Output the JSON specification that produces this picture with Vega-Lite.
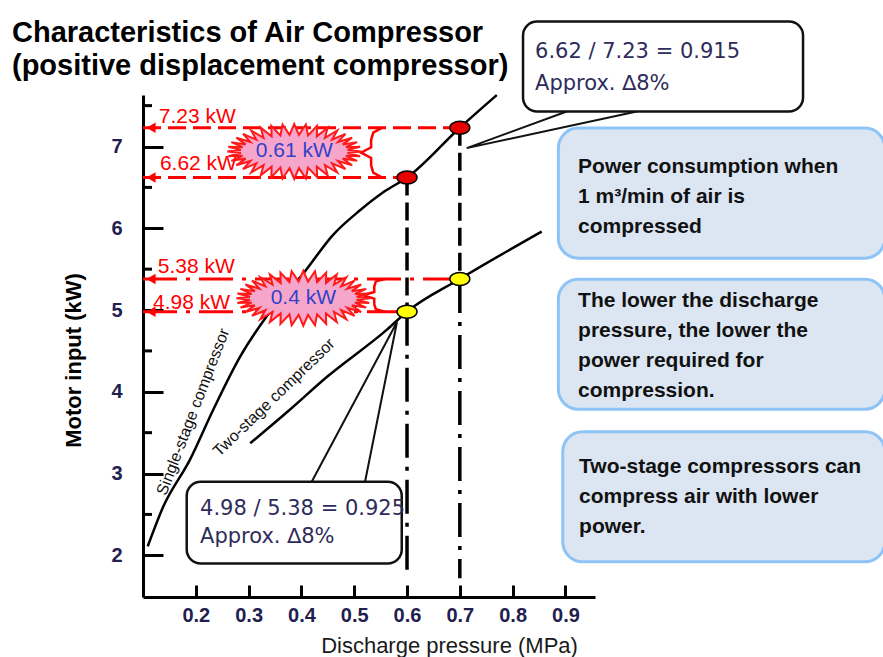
{
  "$schema": "https://vega.github.io/schema/vega-lite/v6.json",
  "width": 452,
  "height": 502,
  "autosize": "none",
  "padding": {"left": 143, "top": 95, "right": 288, "bottom": 60},
  "background": "white",
  "title": {
    "text": ["Characteristics of Air Compressor", "(positive displacement compressor)"],
    "anchor": "start",
    "frame": "group",
    "dx": -131,
    "dy": 111,
    "offset": 21,
    "baseline": "bottom",
    "font": "Liberation Sans",
    "fontSize": 29,
    "fontWeight": "bold",
    "color": "#000000",
    "lineHeight": 33
  },
  "config": {"view": {"stroke": null}},
  "datasets": {
    "curves": [
      {"series": "Single-stage", "p": 0.109, "kw": 2.11},
      {"series": "Single-stage", "p": 0.138, "kw": 2.59},
      {"series": "Single-stage", "p": 0.189, "kw": 3.17},
      {"series": "Single-stage", "p": 0.233, "kw": 3.78},
      {"series": "Single-stage", "p": 0.284, "kw": 4.43},
      {"series": "Single-stage", "p": 0.334, "kw": 4.92},
      {"series": "Single-stage", "p": 0.404, "kw": 5.45},
      {"series": "Single-stage", "p": 0.46, "kw": 5.92},
      {"series": "Single-stage", "p": 0.511, "kw": 6.22},
      {"series": "Single-stage", "p": 0.555, "kw": 6.44},
      {"series": "Single-stage", "p": 0.6, "kw": 6.62},
      {"series": "Single-stage", "p": 0.7, "kw": 7.23},
      {"series": "Single-stage", "p": 0.77, "kw": 7.63},
      {"series": "Two-stage", "p": 0.303, "kw": 3.37},
      {"series": "Two-stage", "p": 0.378, "kw": 3.78},
      {"series": "Two-stage", "p": 0.448, "kw": 4.18},
      {"series": "Two-stage", "p": 0.562, "kw": 4.76},
      {"series": "Two-stage", "p": 0.6, "kw": 4.98},
      {"series": "Two-stage", "p": 0.7, "kw": 5.38},
      {"series": "Two-stage", "p": 0.855, "kw": 5.96}
    ],
    "points": [
      {"series": "Single-stage", "p": 0.6, "kw": 6.62},
      {"series": "Single-stage", "p": 0.7, "kw": 7.23},
      {"series": "Two-stage", "p": 0.6, "kw": 4.98},
      {"series": "Two-stage", "p": 0.7, "kw": 5.38}
    ],
    "hlines": [
      {"kw": 7.23, "p0": 0.1, "p1": 0.7, "style": "dash", "label": "7.23 kW", "lp": 0.13, "lk": 7.29},
      {"kw": 6.62, "p0": 0.1, "p1": 0.6, "style": "dash", "label": "6.62 kW", "lp": 0.132, "lk": 6.71},
      {"kw": 5.38, "p0": 0.1, "p1": 0.7, "style": "dashdot", "label": "5.38 kW", "lp": 0.128, "lk": 5.458},
      {"kw": 4.98, "p0": 0.1, "p1": 0.6, "style": "dashdot", "label": "4.98 kW", "lp": 0.119, "lk": 5.013}
    ],
    "vlines": [
      {"p": 0.6, "k0": 6.62, "k1": 4.98, "style": "dash"},
      {"p": 0.7, "k0": 7.23, "k1": 5.38, "style": "dash"},
      {"p": 0.6, "k0": 4.98, "k1": 1.72, "style": "dashdot"},
      {"p": 0.7, "k0": 5.38, "k1": 1.72, "style": "dashdot"}
    ],
    "braces": [
      {"id": "b1", "ord": 1, "p": 0.553, "kw": 7.23},
      {"id": "b1", "ord": 2, "p": 0.536, "kw": 7.17},
      {"id": "b1", "ord": 3, "p": 0.532, "kw": 7.08},
      {"id": "b1", "ord": 4, "p": 0.532, "kw": 6.99},
      {"id": "b1", "ord": 5, "p": 0.513, "kw": 6.925},
      {"id": "b1", "ord": 6, "p": 0.532, "kw": 6.86},
      {"id": "b1", "ord": 7, "p": 0.532, "kw": 6.77},
      {"id": "b1", "ord": 8, "p": 0.536, "kw": 6.68},
      {"id": "b1", "ord": 9, "p": 0.553, "kw": 6.62},
      {"id": "b2", "ord": 1, "p": 0.558, "kw": 5.38},
      {"id": "b2", "ord": 2, "p": 0.541, "kw": 5.35},
      {"id": "b2", "ord": 3, "p": 0.538, "kw": 5.29},
      {"id": "b2", "ord": 4, "p": 0.538, "kw": 5.22},
      {"id": "b2", "ord": 5, "p": 0.516, "kw": 5.18},
      {"id": "b2", "ord": 6, "p": 0.538, "kw": 5.14},
      {"id": "b2", "ord": 7, "p": 0.538, "kw": 5.07},
      {"id": "b2", "ord": 8, "p": 0.541, "kw": 5.01},
      {"id": "b2", "ord": 9, "p": 0.558, "kw": 4.98}
    ],
    "bursts": [
      {"label": "0.61 kW", "p": 0.3864, "kw": 6.939},
      {"label": "0.4 kW", "p": 0.4036, "kw": 5.144}
    ],
    "curvelabels": [
      {"label": "Single-stage  compressor", "p": 0.195, "kw": 3.756, "ang": 291},
      {"label": "Two-stage compressor", "p": 0.348, "kw": 3.93, "ang": 316}
    ],
    "tails": [
      {"id": "A", "ord": 1, "p": 0.9024, "kw": 7.428},
      {"id": "A", "ord": 2, "p": 0.713, "kw": 6.98},
      {"id": "A", "ord": 3, "p": 1.035, "kw": 7.428},
      {"id": "B", "ord": 1, "p": 0.4195, "kw": 2.9},
      {"id": "B", "ord": 2, "p": 0.581, "kw": 4.853},
      {"id": "B", "ord": 3, "p": 0.5205, "kw": 2.9}
    ],
    "callouts": [
      {"id": "A", "p0": 0.8197, "p1": 1.35, "k0": 8.53, "k1": 7.428},
      {"id": "B", "p0": 0.1828, "p1": 0.59, "k0": 2.9, "k1": 1.901}
    ],
    "callouttext": [
      {"text": "6.62 / 7.23 = 0.915", "p": 0.8424, "kw": 8.086},
      {"text": "Approx. ∆8%", "p": 0.8424, "kw": 7.694},
      {"text": "4.98 / 5.38 = 0.925", "p": 0.208, "kw": 2.492},
      {"text": "Approx. ∆8%", "p": 0.208, "kw": 2.146}
    ],
    "notes": [
      {"id": 1, "p0": 0.8866, "p1": 1.505, "k0": 7.225, "k1": 5.634},
      {"id": 2, "p0": 0.8866, "p1": 1.505, "k0": 5.377, "k1": 3.786},
      {"id": 3, "p0": 0.8949, "p1": 1.505, "k0": 3.512, "k1": 1.92}
    ],
    "notetext": [
      {"text": "Power consumption when", "p": 0.9239, "kw": 6.678},
      {"text": "1 m³/min of air is", "p": 0.9239, "kw": 6.307},
      {"text": "compressed", "p": 0.9239, "kw": 5.94},
      {"text": "The lower the discharge", "p": 0.9239, "kw": 5.042},
      {"text": "pressure, the lower the", "p": 0.9239, "kw": 4.674},
      {"text": "power required for", "p": 0.9239, "kw": 4.307},
      {"text": "compression.", "p": 0.9239, "kw": 3.94},
      {"text": "Two-stage compressors can", "p": 0.9258, "kw": 3.002},
      {"text": "compress air with lower", "p": 0.9258, "kw": 2.635},
      {"text": "power.", "p": 0.9258, "kw": 2.268}
    ],
    "minor": [
      {"kw": 2.5}, {"kw": 3.5}, {"kw": 4.5}, {"kw": 5.5}, {"kw": 6.5}, {"kw": 7.5}
    ]
  },
  "encoding": {
    "x": {
      "type": "quantitative",
      "scale": {"domain": [0.1, 0.956], "nice": false, "zero": false}
    },
    "y": {
      "type": "quantitative",
      "scale": {"domain": [1.49, 7.63], "nice": false, "zero": false}
    }
  },
  "layer": [
    {
      "data": {"name": "hlines"},
      "mark": {"type": "rule", "color": "#ff0000", "strokeWidth": 3},
      "encoding": {
        "x": {"field": "p0", "type": "quantitative",
          "axis": {
            "title": "Discharge pressure (MPa)",
            "values": [0.2, 0.3, 0.4, 0.5, 0.6, 0.7, 0.8, 0.9],
            "format": ".1f",
            "grid": false,
            "domainColor": "#000000",
            "domainWidth": 3,
            "tickColor": "#000000",
            "tickWidth": 3,
            "tickSize": -12,
            "labelPadding": 20,
            "labelFont": "Liberation Sans",
            "labelFontSize": 20,
            "labelFontWeight": "bold",
            "labelColor": "#1f2050",
            "labelFlush": false,
            "titleFont": "Liberation Sans",
            "titleFontSize": 22,
            "titleFontWeight": "normal",
            "titleColor": "#1a1a1a",
            "titleX": 306,
            "titleY": 55,
            "titleAlign": "center",
            "titleBaseline": "alphabetic"
          }
        },
        "x2": {"field": "p1"},
        "y": {"field": "kw", "type": "quantitative",
          "axis": {
            "title": "Motor input (kW)",
            "values": [2, 3, 4, 5, 6, 7],
            "format": "d",
            "grid": false,
            "domainColor": "#000000",
            "domainWidth": 3,
            "tickColor": "#000000",
            "tickWidth": 3,
            "tickSize": -20,
            "labelPadding": 41,
            "labelFont": "Liberation Sans",
            "labelFontSize": 20,
            "labelFontWeight": "bold",
            "labelColor": "#1f2050",
            "labelFlush": false,
            "titleFont": "Liberation Sans",
            "titleFontSize": 22,
            "titleFontWeight": "bold",
            "titleColor": "#000000",
            "titleX": -70,
            "titleY": 265,
            "titleAngle": 270,
            "titleAlign": "center",
            "titleBaseline": "middle"
          }
        },
        "strokeDash": {"field": "style", "type": "nominal",
          "scale": {"domain": ["dash", "dashdot"], "range": [[18, 7], [34, 9, 4, 9]]},
          "legend": null}
      }
    },
    {
      "data": {"name": "hlines"},
      "mark": {"type": "point", "shape": "triangle-left", "filled": true, "color": "#ff0000", "size": 110, "opacity": 1},
      "encoding": {
        "x": {"datum": 0.1152, "type": "quantitative"},
        "y": {"field": "kw", "type": "quantitative"}
      }
    },
    {
      "data": {"name": "hlines"},
      "mark": {"type": "text", "font": "Liberation Sans", "fontSize": 21, "color": "#ff0000", "align": "left", "baseline": "alphabetic"},
      "encoding": {
        "x": {"field": "lp", "type": "quantitative"},
        "y": {"field": "lk", "type": "quantitative"},
        "text": {"field": "label"}
      }
    },
    {
      "data": {"name": "vlines"},
      "mark": {"type": "rule", "color": "#000000", "strokeWidth": 3.5},
      "encoding": {
        "x": {"field": "p", "type": "quantitative"},
        "y": {"field": "k0", "type": "quantitative"},
        "y2": {"field": "k1"},
        "strokeDash": {"field": "style", "type": "nominal",
          "scale": {"domain": ["dash", "dashdot"], "range": [[19, 12], [32, 11, 4, 12]]},
          "legend": null}
      }
    },
    {
      "data": {"name": "minor"},
      "mark": {"type": "rule", "color": "#000000", "strokeWidth": 3},
      "encoding": {
        "x": {"datum": 0.1, "type": "quantitative"},
        "x2": {"datum": 0.117},
        "y": {"field": "kw", "type": "quantitative"}
      }
    },
    {
      "data": {"name": "curves"},
      "mark": {"type": "line", "color": "#000000", "strokeWidth": 2.5, "interpolate": "monotone"},
      "encoding": {
        "x": {"field": "p", "type": "quantitative"},
        "y": {"field": "kw", "type": "quantitative"},
        "detail": {"field": "series"}
      }
    },
    {
      "data": {"name": "curvelabels"},
      "mark": {"type": "text", "font": "Liberation Sans", "fontSize": 16, "color": "#111111", "align": "center", "baseline": "middle"},
      "encoding": {
        "x": {"field": "p", "type": "quantitative"},
        "y": {"field": "kw", "type": "quantitative"},
        "text": {"field": "label"},
        "angle": {"field": "ang", "type": "quantitative", "scale": null}
      }
    },
    {
      "data": {"name": "braces"},
      "mark": {"type": "line", "color": "#ff0000", "strokeWidth": 2.5},
      "encoding": {
        "x": {"field": "p", "type": "quantitative"},
        "y": {"field": "kw", "type": "quantitative"},
        "detail": {"field": "id"},
        "order": {"field": "ord"}
      }
    },
    {
      "data": {"name": "bursts"},
      "mark": {
        "type": "point",
        "filled": true,
        "fill": "#f7a6cb",
        "stroke": "#ff1a1a",
        "strokeWidth": 2,
        "opacity": 1,
        "fillOpacity": 1,
        "size": 17900,
        "shape": "M1,0 L.797,.022 L.985,.071 L.773,.065 L.94,.14 L.725,.106 L.866,.205 L.655,.143 L.766,.264 L.566,.177 L.643,.314 L.459,.205 L.5,.355 L.338,.227 L.342,.385 L.207,.241 L.174,.404 L.07,.249 L0,.41 L-.07,.249 L-.174,.404 L-.207,.241 L-.342,.385 L-.338,.227 L-.5,.355 L-.459,.205 L-.643,.314 L-.566,.177 L-.766,.264 L-.655,.143 L-.866,.205 L-.725,.106 L-.94,.14 L-.773,.065 L-.985,.071 L-.797,.022 L-1,0 L-.797,-.022 L-.985,-.071 L-.773,-.065 L-.94,-.14 L-.725,-.106 L-.866,-.205 L-.655,-.143 L-.766,-.264 L-.566,-.177 L-.643,-.314 L-.459,-.205 L-.5,-.355 L-.338,-.227 L-.342,-.385 L-.207,-.241 L-.174,-.404 L-.07,-.249 L0,-.41 L.07,-.249 L.174,-.404 L.207,-.241 L.342,-.385 L.338,-.227 L.5,-.355 L.459,-.205 L.643,-.314 L.566,-.177 L.766,-.264 L.655,-.143 L.866,-.205 L.725,-.106 L.94,-.14 L.773,-.065 L.985,-.071 L.797,-.022 Z"
      },
      "encoding": {
        "x": {"field": "p", "type": "quantitative"},
        "y": {"field": "kw", "type": "quantitative"}
      }
    },
    {
      "data": {"name": "bursts"},
      "mark": {"type": "text", "font": "Liberation Sans", "fontSize": 21, "color": "#3142c8", "align": "center", "baseline": "middle"},
      "encoding": {
        "x": {"field": "p", "type": "quantitative"},
        "y": {"field": "kw", "type": "quantitative"},
        "text": {"field": "label"}
      }
    },
    {
      "data": {"name": "points"},
      "mark": {
        "type": "point",
        "filled": true,
        "opacity": 1,
        "stroke": "#000000",
        "strokeWidth": 1.5,
        "size": 400,
        "shape": "M-1,0 A1,0.65 0 1,0 1,0 A1,0.65 0 1,0 -1,0 Z"
      },
      "encoding": {
        "x": {"field": "p", "type": "quantitative"},
        "y": {"field": "kw", "type": "quantitative"},
        "fill": {"field": "series", "type": "nominal",
          "scale": {"domain": ["Single-stage", "Two-stage"], "range": ["#e60000", "#ffff00"]},
          "legend": null}
      }
    },
    {
      "data": {"name": "tails"},
      "mark": {"type": "line", "color": "#111111", "strokeWidth": 2},
      "encoding": {
        "x": {"field": "p", "type": "quantitative"},
        "y": {"field": "kw", "type": "quantitative"},
        "detail": {"field": "id"},
        "order": {"field": "ord"}
      }
    },
    {
      "data": {"name": "callouts"},
      "mark": {"type": "rect", "fill": "#ffffff", "stroke": "#111111", "strokeWidth": 2.5, "cornerRadius": 14},
      "encoding": {
        "x": {"field": "p0", "type": "quantitative"},
        "x2": {"field": "p1"},
        "y": {"field": "k0", "type": "quantitative"},
        "y2": {"field": "k1"}
      }
    },
    {
      "data": {"name": "callouttext"},
      "mark": {"type": "text", "font": "DejaVu Sans", "fontSize": 21, "color": "#2e2c5a", "align": "left", "baseline": "alphabetic"},
      "encoding": {
        "x": {"field": "p", "type": "quantitative"},
        "y": {"field": "kw", "type": "quantitative"},
        "text": {"field": "text"}
      }
    },
    {
      "data": {"name": "notes"},
      "mark": {"type": "rect", "fill": "#dce6f2", "stroke": "#8ec3f5", "strokeWidth": 3, "cornerRadius": 20},
      "encoding": {
        "x": {"field": "p0", "type": "quantitative"},
        "x2": {"field": "p1"},
        "y": {"field": "k0", "type": "quantitative"},
        "y2": {"field": "k1"}
      }
    },
    {
      "data": {"name": "notetext"},
      "mark": {"type": "text", "font": "Liberation Sans", "fontSize": 21, "fontWeight": "bold", "color": "#111111", "align": "left", "baseline": "alphabetic"},
      "encoding": {
        "x": {"field": "p", "type": "quantitative"},
        "y": {"field": "kw", "type": "quantitative"},
        "text": {"field": "text"}
      }
    }
  ]
}
